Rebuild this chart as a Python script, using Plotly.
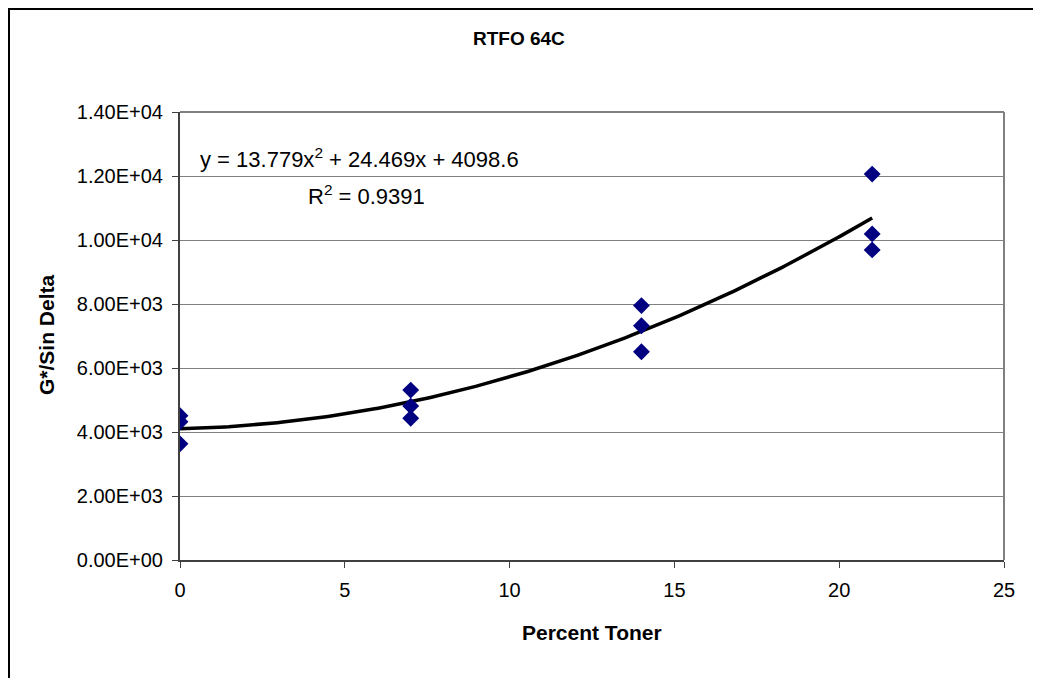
import numpy as np
import plotly.graph_objects as go

# Data
percent_toner = [0, 0, 0, 7, 7, 7, 14, 14, 14, 21, 21, 21]
g_sin_delta = [4510, 4320, 3630, 5310, 4810, 4430, 7950, 7320, 6510, 12060, 10190, 9690]

# Polynomial trendline coefficients shown on chart (a*x^2 + b*x + c)
trend_coeffs = [13.779, 24.469, 4098.6]
r_squared = 0.9391

y_ticks = [0, 2000, 4000, 6000, 8000, 10000, 12000, 14000]
y_tick_labels = ["0.00E+00", "2.00E+03", "4.00E+03", "6.00E+03", "8.00E+03", "1.00E+04", "1.20E+04", "1.40E+04"]
x_ticks = [0, 5, 10, 15, 20, 25]

W, H = 1041, 678
OFF = 8  # page body margin
# plot area in reference pixels
RL, RR, RT, RB = 180, 1004, 112, 560
L, R, T, B = RL - OFF, RR - OFF, RT - OFF, RB - OFF

xt = np.linspace(min(percent_toner), max(percent_toner), 200)
yt = np.polyval(trend_coeffs, xt)

fig = go.Figure()
fig.add_trace(go.Scatter(x=xt, y=yt, mode="lines",
                         line=dict(color="black", width=3.5), hoverinfo="skip",
                         showlegend=False))
fig.add_trace(go.Scatter(x=percent_toner, y=g_sin_delta, mode="markers",
                         marker=dict(symbol="diamond", size=13, color="#000080"),
                         showlegend=False))

font = "Liberation Sans, Arial, sans-serif"

def px_x(p):  # reference pixel -> paper
    return (p - OFF - L) / (R - L)

def px_y(p):
    return (B - (p - OFF)) / (B - T)

fig.update_layout(
    width=W, height=H,
    margin=dict(l=L, r=W - R, t=T, b=H - B, pad=0),
    paper_bgcolor="white", plot_bgcolor="white",
    font=dict(family=font, color="black", size=20),
    xaxis=dict(range=[0, 25], tickvals=x_ticks, ticks="outside", ticklen=6,
               tickcolor="#404040", showgrid=False, zeroline=False,
               showline=True, linecolor="#404040", linewidth=2,
               tickfont=dict(size=20), ticklabelstandoff=5),
    yaxis=dict(range=[0, 14000], tickvals=y_ticks, ticktext=y_tick_labels,
               ticks="outside", ticklen=6, tickcolor="#404040",
               showgrid=True, gridcolor="#808080", gridwidth=1,
               zeroline=False, showline=True, linecolor="#404040", linewidth=2,
               tickfont=dict(size=20), ticklabelstandoff=5),
    shapes=[
        dict(type="line", xref="paper", yref="paper", x0=0, x1=1, y0=1, y1=1,
             line=dict(color="#808080", width=2)),
        dict(type="line", xref="paper", yref="paper", x0=1, x1=1, y0=0, y1=1,
             line=dict(color="#808080", width=2)),
        dict(type="rect", xref="paper", yref="paper",
             x0=px_x(OFF + 1), x1=px_x(1039), y0=px_y(700), y1=px_y(OFF + 1),
             line=dict(color="black", width=2)),
    ],
    annotations=[
        dict(text="<b>RTFO 64C</b>", xref="paper", yref="paper",
             x=px_x(519), y=px_y(39), xanchor="center", yanchor="middle",
             showarrow=False, font=dict(size=19)),
        dict(text="<b>Percent Toner</b>", xref="paper", yref="paper",
             x=px_x(592), y=px_y(632), xanchor="center", yanchor="middle",
             showarrow=False, font=dict(size=21)),
        dict(text="<b>G*/Sin Delta</b>", xref="paper", yref="paper",
             x=px_x(46), y=px_y(335), xanchor="center", yanchor="middle",
             textangle=-90, showarrow=False, font=dict(size=21)),
        dict(text="y = %gx<sup>2</sup> + %gx + %g" % tuple(trend_coeffs),
             xref="paper", yref="paper", x=px_x(198), y=px_y(158),
             xanchor="left", yanchor="middle", showarrow=False,
             font=dict(size=22)),
        dict(text="R<sup>2</sup> = %g" % r_squared,
             xref="paper", yref="paper", x=px_x(306), y=px_y(195),
             xanchor="left", yanchor="middle", showarrow=False,
             font=dict(size=22)),
    ],
)

fig.write_html("out.html")
